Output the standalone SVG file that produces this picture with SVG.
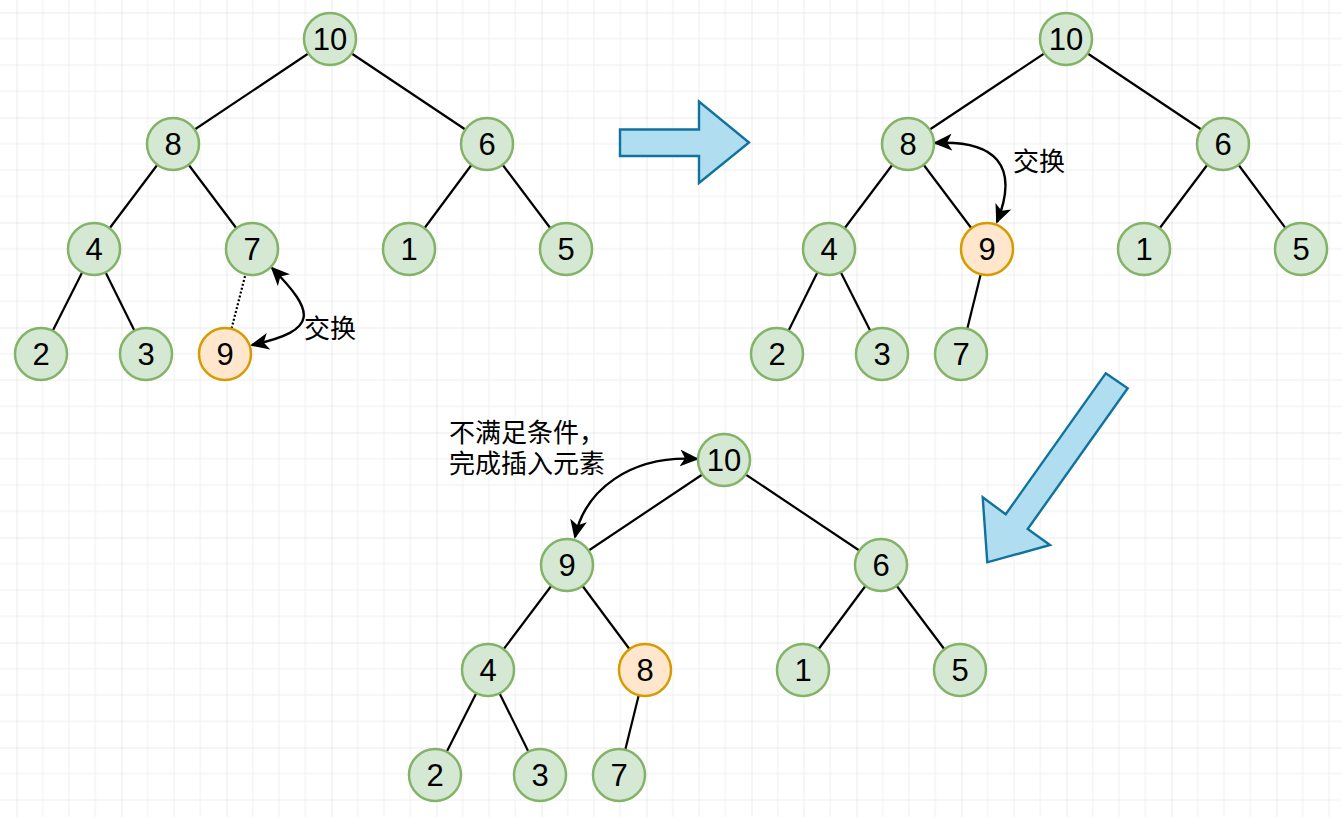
<svg xmlns="http://www.w3.org/2000/svg" width="1342" height="817" viewBox="0 0 1342 817">
<style>
.n circle{stroke-width:2.5}
.g circle{fill:#d5e8d4;stroke:#82b366}
.o circle{fill:#ffe6cc;stroke:#d79b00}
.n text{font-family:"Liberation Sans",Arial,sans-serif;font-size:31px;fill:#000;text-anchor:middle}
.e line{stroke:#000;stroke-width:2.2}
.cv{fill:none;stroke:#000;stroke-width:2.4;marker-start:url(#ah);marker-end:url(#ah)}
.lbl{font-family:"Liberation Sans","Noto Sans CJK SC",sans-serif;font-size:26px;fill:#000}
.big{fill:#b1ddf0;stroke:#10739e;stroke-width:2.4;stroke-linejoin:miter}
</style>
<defs>
<pattern id="grid" patternUnits="userSpaceOnUse" x="16.5" y="12.5" width="105" height="105">
<path d="M26.25 0V105M52.5 0V105M78.75 0V105M0 26.25H105M0 52.5H105M0 78.75H105" stroke="#efefef" stroke-width="1" fill="none"/>
<path d="M0 0V105M0 0H105" stroke="#d6d6d6" stroke-width="1" fill="none"/>
</pattern>
<marker id="ah" viewBox="0 0 19 17" refX="17" refY="8.5" markerWidth="19" markerHeight="17" markerUnits="userSpaceOnUse" orient="auto-start-reverse">
<path d="M0,0 L19,8.5 L0,17 L5,8.5 z" fill="#000"/>
</marker>
</defs>
<rect width="1342" height="817" fill="#fff"/>
<rect width="1342" height="817" fill="url(#grid)"/>

<g id="connectors" class="e">
<!-- tree 1 -->
<line x1="330" y1="39" x2="173" y2="144"/>
<line x1="330" y1="39" x2="487" y2="144"/>
<line x1="173" y1="144" x2="94" y2="249"/>
<line x1="173" y1="144" x2="252" y2="249"/>
<line x1="487" y1="144" x2="409" y2="249"/>
<line x1="487" y1="144" x2="566" y2="249"/>
<line x1="94" y1="249" x2="41" y2="354"/>
<line x1="94" y1="249" x2="146" y2="354"/>
<line x1="252" y1="249" x2="225" y2="354" stroke-dasharray="2 2"/>
<!-- tree 2 -->
<line x1="1066" y1="39" x2="908" y2="144"/>
<line x1="1066" y1="39" x2="1223" y2="144"/>
<line x1="908" y1="144" x2="829" y2="249"/>
<line x1="908" y1="144" x2="987" y2="249"/>
<line x1="1223" y1="144" x2="1144" y2="249"/>
<line x1="1223" y1="144" x2="1301" y2="249"/>
<line x1="829" y1="249" x2="777" y2="354"/>
<line x1="829" y1="249" x2="882" y2="354"/>
<line x1="987" y1="249" x2="961" y2="354"/>
<!-- tree 3 -->
<line x1="724" y1="460" x2="567" y2="565"/>
<line x1="724" y1="460" x2="881" y2="565"/>
<line x1="567" y1="565" x2="488" y2="670"/>
<line x1="567" y1="565" x2="645" y2="670"/>
<line x1="881" y1="565" x2="803" y2="670"/>
<line x1="881" y1="565" x2="960" y2="670"/>
<line x1="488" y1="670" x2="435" y2="775"/>
<line x1="488" y1="670" x2="540" y2="775"/>
<line x1="645" y1="670" x2="619" y2="775"/>
<!-- swap arrows -->
<path class="cv" d="M252 345 C320 330 315 312 272 268"/>
<path class="cv" d="M935 143 C995 140 1020 165 997 222"/>
<path class="cv" d="M697 459 C630 455 585 490 575 537"/>
</g>

<g id="t1-10" class="n g"><circle cx="330" cy="39" r="26"/><text x="330" y="50">10</text></g>
<g id="t1-8" class="n g"><circle cx="173" cy="144" r="26"/><text x="173" y="155">8</text></g>
<g id="t1-6" class="n g"><circle cx="487" cy="144" r="26"/><text x="487" y="155">6</text></g>
<g id="t1-4" class="n g"><circle cx="94" cy="249" r="26"/><text x="94" y="260">4</text></g>
<g id="t1-7" class="n g"><circle cx="252" cy="249" r="26"/><text x="252" y="260">7</text></g>
<g id="t1-1" class="n g"><circle cx="409" cy="249" r="26"/><text x="409" y="260">1</text></g>
<g id="t1-5" class="n g"><circle cx="566" cy="249" r="26"/><text x="566" y="260">5</text></g>
<g id="t1-2" class="n g"><circle cx="41" cy="354" r="26"/><text x="41" y="365">2</text></g>
<g id="t1-3" class="n g"><circle cx="146" cy="354" r="26"/><text x="146" y="365">3</text></g>
<g id="t1-9" class="n o"><circle cx="225" cy="354" r="26"/><text x="225" y="365">9</text></g>

<g id="t2-10" class="n g"><circle cx="1066" cy="39" r="26"/><text x="1066" y="50">10</text></g>
<g id="t2-8" class="n g"><circle cx="908" cy="144" r="26"/><text x="908" y="155">8</text></g>
<g id="t2-6" class="n g"><circle cx="1223" cy="144" r="26"/><text x="1223" y="155">6</text></g>
<g id="t2-4" class="n g"><circle cx="829" cy="249" r="26"/><text x="829" y="260">4</text></g>
<g id="t2-9" class="n o"><circle cx="987" cy="249" r="26"/><text x="987" y="260">9</text></g>
<g id="t2-1" class="n g"><circle cx="1144" cy="249" r="26"/><text x="1144" y="260">1</text></g>
<g id="t2-5" class="n g"><circle cx="1301" cy="249" r="26"/><text x="1301" y="260">5</text></g>
<g id="t2-2" class="n g"><circle cx="777" cy="354" r="26"/><text x="777" y="365">2</text></g>
<g id="t2-3" class="n g"><circle cx="882" cy="354" r="26"/><text x="882" y="365">3</text></g>
<g id="t2-7" class="n g"><circle cx="961" cy="354" r="26"/><text x="961" y="365">7</text></g>

<g id="t3-10" class="n g"><circle cx="724" cy="460" r="26"/><text x="724" y="471">10</text></g>
<g id="t3-9" class="n g"><circle cx="567" cy="565" r="26"/><text x="567" y="576">9</text></g>
<g id="t3-6" class="n g"><circle cx="881" cy="565" r="26"/><text x="881" y="576">6</text></g>
<g id="t3-4" class="n g"><circle cx="488" cy="670" r="26"/><text x="488" y="681">4</text></g>
<g id="t3-8" class="n o"><circle cx="645" cy="670" r="26"/><text x="645" y="681">8</text></g>
<g id="t3-1" class="n g"><circle cx="803" cy="670" r="26"/><text x="803" y="681">1</text></g>
<g id="t3-5" class="n g"><circle cx="960" cy="670" r="26"/><text x="960" y="681">5</text></g>
<g id="t3-2" class="n g"><circle cx="435" cy="775" r="26"/><text x="435" y="786">2</text></g>
<g id="t3-3" class="n g"><circle cx="540" cy="775" r="26"/><text x="540" y="786">3</text></g>
<g id="t3-7" class="n g"><circle cx="619" cy="775" r="26"/><text x="619" y="786">7</text></g>

<g id="labels">
<text class="lbl" x="304" y="338">交换</text>
<text class="lbl" x="1013" y="171">交换</text>
<text class="lbl" x="449" y="442">不满足条件，</text>
<text class="lbl" x="449" y="473">完成插入元素</text>
</g>

<g id="big-arrows">
<polygon id="arrow-right" class="big" points="620,129.5 699,129.5 699,101.5 749,142.5 699,183 699,156 620,156"/>
<polygon id="arrow-down-left" class="big" points="1105.7,373.3 1127.7,388.3 1027.7,529 1050,545 987.3,562.3 982.7,497.3 1005.7,514.3"/>
</g>
</svg>
